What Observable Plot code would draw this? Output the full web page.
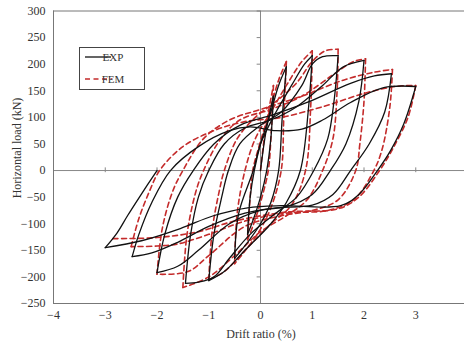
<!DOCTYPE html>
<html><head><meta charset="utf-8">
<script src="https://cdn.jsdelivr.net/npm/d3@7"></script>
<script src="https://cdn.jsdelivr.net/npm/@observablehq/plot@0.6"></script>
<style>body{margin:0;background:#fff;} #chart svg{display:block}</style>
</head><body><div id="chart"></div>
<script>
// Experimental hysteresis (drift %, load kN)
const expDrift = [0,0.1,0.25,0.2,0.12,0,-0.15,-0.25,-0.2,-0.12,0,0.2,
  0.35,0.5,0.42,0.35,0.2,0,-0.25,-0.5,-0.42,-0.14,0,0.3,0.6,0.85,1.0,
  0.93,0.77,0.5,0.2,-0.3,-0.7,-1.0,-0.9,-0.75,-0.62,-0.4,0,0.4,0.8,1.0,1.2,1.5,
  1.42,1.3,1.03,0.7,0.3,-0.2,-0.6,-0.9,-1.2,-1.45,-1.35,-1.2,-1.0,-0.7,-0.3,0.2,0.7,1.2,1.6,2.0,
  1.9,1.65,1.35,1.0,0.5,0,-0.6,-1.2,-1.6,-2.0,-1.85,-1.6,-1.3,-0.9,-0.4,0.25,0.9,1.74,2.2,2.53,
  2.4,2.1,1.74,1.4,1.0,0.3,-0.3,-1.0,-1.6,-2.1,-2.48,-2.35,-2.1,-1.74,-1.2,-0.6,-0.2,0.3,0.8,1.2,1.74,2.38,3.0,
  2.77,2.51,2.26,1.9,1.55,0.4,-0.25,-0.91,-1.55,-2.3,-3.0,-2.77,-2.57,-2.32,-2.0];
const expLoad = [0,70,140,60,0,-50,-95,-120,-50,0,50,110,
  160,195,100,0,-60,-100,-135,-165,-80,0,50,110,160,200,216,
  120,0,-60,-100,-150,-190,-207,-120,-50,0,50,85,110,160,200,214,216,
  130,60,0,-50,-80,-120,-165,-200,-210,-212,-120,-50,0,50,80,95,120,160,195,207,
  130,50,0,-45,-68,-75,-100,-150,-180,-192,-120,-50,0,50,85,105,128,164,178,182,
  110,50,0,-45,-65,-70,-80,-105,-135,-155,-162,-120,-60,0,45,75,82,75,78,95,128,156,158,
  88,37,0,-45,-66,-66,-70,-85,-109,-132,-145,-117,-85,-47,0];
// Finite element model
const femDrift = [0,0.1,0.25,0.2,0.15,0,-0.15,-0.25,-0.2,-0.15,0,0.2,
  0.35,0.5,0.45,0.4,0.2,0,-0.25,-0.5,-0.45,-0.3,-0.1,0.2,0.5,0.8,1.0,
  0.97,0.87,0.6,0.2,-0.3,-0.7,-1.0,-0.93,-0.8,-0.7,-0.45,-0.1,0.3,0.7,1.0,1.25,1.5,
  1.48,1.4,1.2,0.9,0.5,0,-0.5,-1.0,-1.5,-1.42,-1.25,-1.1,-0.8,-0.4,0.2,0.8,1.4,1.8,2.03,
  2.0,1.92,1.84,1.5,1.0,0.4,-0.3,-1.0,-1.4,-2.0,-1.9,-1.7,-1.5,-1.1,-0.6,0,0.8,1.6,2.2,2.55,
  2.5,2.35,2.19,1.8,1.3,0.5,-0.3,-1.0,-1.6,-2.0,-2.5,-2.35,-2.15,-1.95,-1.5,-0.9,-0.3,0.4,1.2,2.0,2.6,3.0,
  2.85,2.55,2.3,1.9,1.5,0.5,-0.5,-1.2,-2.0,-2.9];
const femLoad = [0,80,160,60,0,-60,-105,-130,-50,0,55,120,
  170,205,100,0,-70,-110,-145,-175,-80,0,60,110,160,205,225,
  120,0,-65,-100,-150,-190,-205,-110,-40,0,60,100,130,165,205,225,228,
  150,60,0,-55,-85,-115,-160,-200,-220,-120,-40,0,55,95,115,140,180,205,210,
  130,50,0,-55,-75,-85,-105,-160,-190,-195,-110,-40,0,60,95,115,140,170,185,190,
  120,40,0,-55,-75,-80,-95,-120,-138,-142,-143,-90,-40,0,45,75,92,100,120,145,158,160,
  100,40,0,-50,-72,-78,-95,-115,-126,-128];
const seriesNames = ["EXP", "FEM"];
const xTicks = [-4,-3,-2,-1,0,1,2,3,4];
const yTicks = [-250,-200,-150,-100,-50,0,50,100,150,200,250,300];
const xTitle = "Drift ratio (%)";
const yTitle = "Horizontal load (kN)";

// split a path into branches at each reversal of drift direction (peaks stay sharp)
function branches(ds, fs) {
  const rows = [];
  let b = 0, dir = 0;
  for (let i = 0; i < ds.length; i++) {
    if (i > 0) {
      const s = Math.sign(ds[i] - ds[i - 1]);
      if (dir !== 0 && s !== 0 && s !== dir) {
        b++;
        rows.push({d: ds[i - 1], f: fs[i - 1], b});
      }
      if (s !== 0) dir = s;
    }
    rows.push({d: ds[i], f: fs[i], b});
  }
  return rows;
}
const expRows = branches(expDrift, expLoad);
const femRows = branches(femDrift, femLoad);
const FONT = "'Liberation Serif','Times New Roman',serif";
const RED = "#c42b2b";

const plot = Plot.plot({
  width: 464, height: 341,
  marginLeft: 53, marginTop: 11, marginBottom: 38, marginRight: 0,
  x: {domain: [-4, 4], range: [53, 467]},
  y: {domain: [-250, 300], range: [303, 10.5]},
  style: {fontFamily: FONT, fontSize: "12px", color: "#333", background: "#fff"},
  marks: [
    Plot.ruleY([0], {stroke: "#888", strokeWidth: 1}),
    Plot.ruleX([0], {y1: -250, y2: 300, stroke: "#888", strokeWidth: 1}),
    Plot.ruleY(yTicks, {y: d => d, x1: -0.065, x2: 0, stroke: "#888"}),
    Plot.ruleX(xTicks, {x: d => d, y1: -4, y2: 5, stroke: "#888"}),
    Plot.line(femRows, {x: "d", y: "f", z: "b", stroke: RED, strokeWidth: 1.6, strokeDasharray: "5,3.5", curve: "catmull-rom"}),
    Plot.line(expRows, {x: "d", y: "f", z: "b", stroke: "#111", strokeWidth: 1.3, curve: "catmull-rom"}),
    Plot.ruleX([-4], {y1: -250, y2: 300, stroke: "#777"}),
    Plot.ruleY([300, -250], {y: d => d, x1: -4, x2: 4, stroke: "#777"}),
    Plot.axisY(yTicks, {anchor: "left", tickSize: 0, tickPadding: 8, label: null, fontSize: 12}),
    Plot.axisX(xTicks, {anchor: "bottom", tickSize: 0, tickPadding: 7, label: null, fontSize: 12})
  ]
});
document.getElementById("chart").appendChild(plot);

const svg = d3.select(plot);
svg.append("text").attr("x", 261).attr("y", 338).attr("text-anchor", "middle")
  .attr("font-family", FONT).attr("font-size", 12).attr("fill", "#333").text(xTitle);
svg.append("text").attr("transform", "translate(21,148) rotate(-90)").attr("text-anchor", "middle")
  .attr("font-family", FONT).attr("font-size", 12).attr("fill", "#333").text(yTitle);
// legend
const lg = svg.append("g");
lg.append("rect").attr("x", 79.5).attr("y", 47.5).attr("width", 65).attr("height", 42)
  .attr("fill", "#fff").attr("stroke", "#444");
lg.append("line").attr("x1", 85).attr("x2", 111).attr("y1", 57).attr("y2", 57)
  .attr("stroke", "#111").attr("stroke-width", 1.3);
lg.append("line").attr("x1", 85).attr("x2", 112).attr("y1", 79).attr("y2", 79)
  .attr("stroke", RED).attr("stroke-width", 1.6).attr("stroke-dasharray", "5,3.5");
lg.append("text").attr("x", 113).attr("y", 61).attr("font-family", FONT).attr("font-size", 11)
  .attr("fill", "#333").text(seriesNames[0]);
lg.append("text").attr("x", 113).attr("y", 83).attr("font-family", FONT).attr("font-size", 11)
  .attr("fill", "#333").text(seriesNames[1]);
</script></body></html>
